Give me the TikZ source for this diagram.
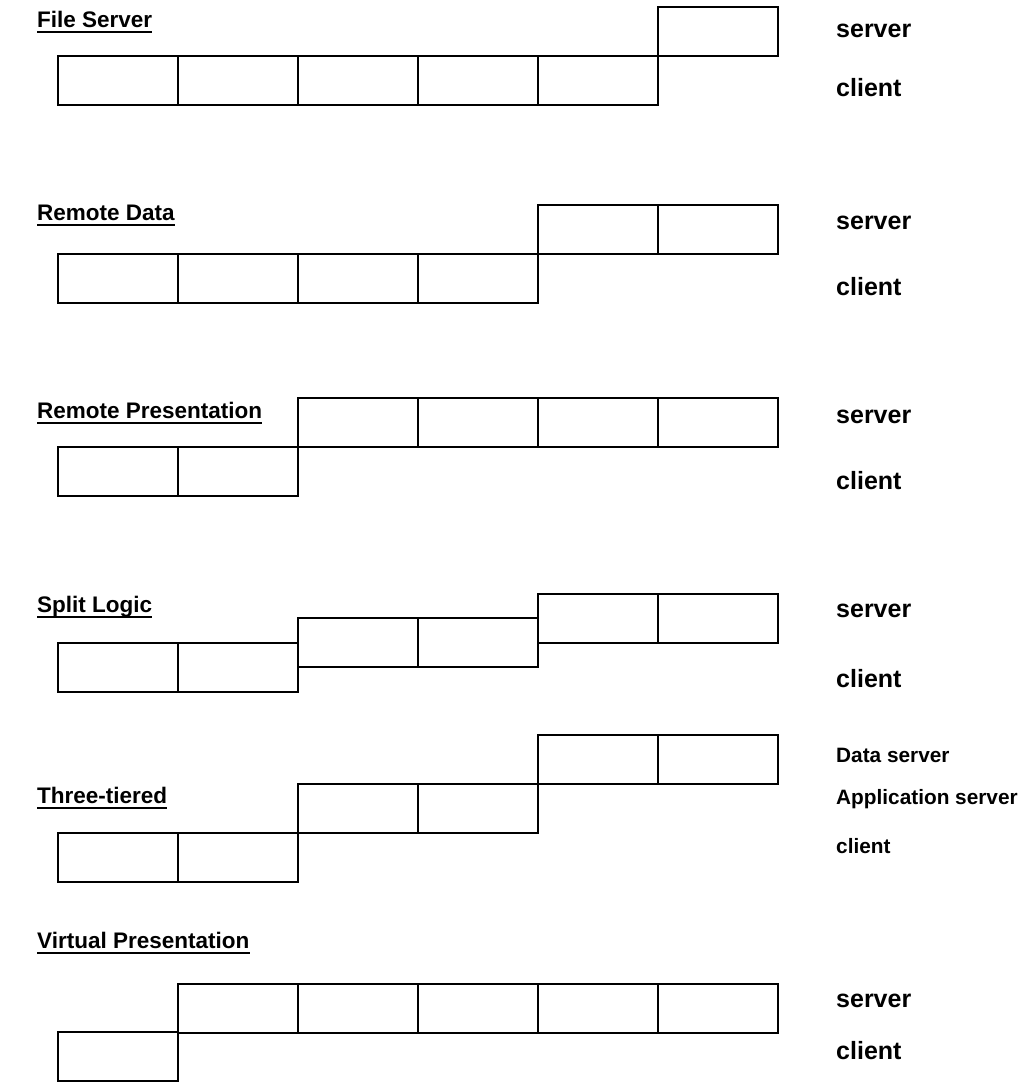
\documentclass[tikz,border=0pt]{standalone}
\usepackage{fontspec}
\setmainfont{Liberation Sans}
\usetikzlibrary{positioning}
\tikzset{
  cell/.style={draw=black,line width=2.2pt,minimum width=120pt,minimum height=49pt,anchor=north west,inner sep=0pt,outer sep=0pt},
  title/.style={anchor=base west,inner sep=0pt,font=\fontsize{22.5}{26}\selectfont\bfseries},
  uline/.style={line width=1.8pt},
  rolelabel/.style={anchor=base west,inner sep=0pt,font=\fontsize{25}{28}\selectfont\bfseries},
  smalllabel/.style={anchor=base west,inner sep=0pt,font=\fontsize{20.8}{24}\selectfont\bfseries}
}

\begin{document}
\begin{tikzpicture}[x=1pt,y=-1pt]
\useasboundingbox (0,0) rectangle (1030,1082);
% section titles
\foreach \n/\y/\t in {fs/27/File Server,rd/220/Remote Data,rp/418/Remote Presentation,sl/612/Split Logic,tt/803/Three-tiered,vp/948/Virtual Presentation}{
  \node[title] (\n) at (37,\y) {\t};
  \draw[uline] ([yshift=-5pt]\n.base west) -- ([yshift=-5pt]\n.base east);
}
% File Server
\foreach \i in {0,...,4} \node[cell] (fsc\i) at (58+120*\i,56) {};
\node[cell] (fss) at (658,7) {};
\node[rolelabel] (fsls) at (836,37) {server};
\node[rolelabel] (fslc) at (836,96) {client};
% Remote Data
\foreach \i in {0,...,3} \node[cell] (rdc\i) at (58+120*\i,254) {};
\foreach \i in {4,5} \node[cell] (rds\i) at (58+120*\i,205) {};
\node[rolelabel] (rdls) at (836,229) {server};
\node[rolelabel] (rdlc) at (836,295) {client};
% Remote Presentation
\foreach \i in {0,1} \node[cell] (rpc\i) at (58+120*\i,447) {};
\foreach \i in {2,...,5} \node[cell] (rps\i) at (58+120*\i,398) {};
\node[rolelabel] (rpls) at (836,423) {server};
\node[rolelabel] (rplc) at (836,489) {client};
% Split Logic
\foreach \i in {0,1} \node[cell] (slc\i) at (58+120*\i,643) {};
\foreach \i in {2,3} \node[cell] (slm\i) at (58+120*\i,618) {};
\foreach \i in {4,5} \node[cell] (sls\i) at (58+120*\i,594) {};
\node[rolelabel] (slls) at (836,617) {server};
\node[rolelabel] (sllc) at (836,687) {client};
% Three-tiered
\foreach \i in {0,1} \node[cell] (ttc\i) at (58+120*\i,833) {};
\foreach \i in {2,3} \node[cell] (tta\i) at (58+120*\i,784) {};
\foreach \i in {4,5} \node[cell] (ttd\i) at (58+120*\i,735) {};
\node[smalllabel] (ttld) at (836,762) {Data server};
\node[smalllabel] (ttla) at (836,804) {Application server};
\node[smalllabel] (ttlc) at (836,853) {client};
% Virtual Presentation
\node[cell] (vpc0) at (58,1032) {};
\foreach \i in {1,...,5} \node[cell] (vps\i) at (58+120*\i,984) {};
\node[rolelabel] (vpls) at (836,1007) {server};
\node[rolelabel] (vplc) at (836,1059) {client};
\end{tikzpicture}
\end{document}
